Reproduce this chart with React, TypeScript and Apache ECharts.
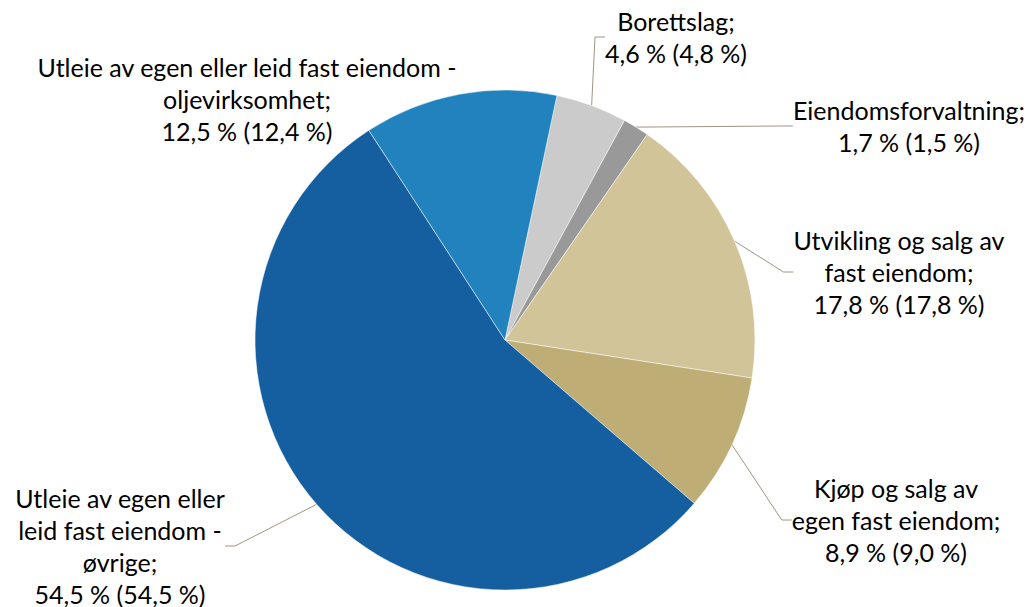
import React, { useEffect, useRef } from "react";
import * as echarts from "echarts";

const categories = [
  "Borettslag",
  "Eiendomsforvaltning",
  "Utvikling og salg av\nfast eiendom",
  "Kjøp og salg av\negen fast eiendom",
  "Utleie av egen eller\nleid fast eiendom -\nøvrige",
  "Utleie av egen eller leid fast eiendom -\noljevirksomhet",
];
const values = [4.6, 1.7, 17.8, 8.9, 54.5, 12.5];
const previousValues = [4.8, 1.5, 17.8, 9.0, 54.5, 12.4];
const colors = ["#CBCBCB", "#999999", "#D0C498", "#BFAD76", "#155FA1", "#2182BD"];

// label block centres (layout only)
const labelCentres: [number, number][] = [
  [676, 37],
  [909, 126],
  [899, 272],
  [896, 520],
  [120, 546],
  [247, 99],
];

const fmt = (v: number) => v.toFixed(1).replace(".", ",");

export default function App() {
  const ref = useRef<HTMLDivElement>(null);
  useEffect(() => {
    document.body.style.margin = "0";
    const chart = echarts.init(ref.current!, null, { renderer: "svg" });
    chart.setOption({
      animation: false,
      backgroundColor: "#ffffff",
      series: [
        {
          type: "pie",
          center: [505, 340],
          radius: [0, 250],
          startAngle: 78,
          clockwise: true,
          avoidLabelOverlap: false,
          itemStyle: { borderColor: "#ffffff", borderWidth: 0.5 },
          data: categories.map((name, i) => ({
            name,
            value: values[i],
            itemStyle: { color: colors[i] },
          })),
          label: {
            show: true,
            position: "outside",
            fontFamily: "Lato",
            fontSize: 25,
            lineHeight: 32,
            color: "#000000",
            align: "center",
            formatter: (p: any) =>
              `${p.name};\n${fmt(p.value)} % (${fmt(previousValues[p.dataIndex])} %)`,
          },
          labelLine: {
            show: true,
            length: 10,
            length2: 10,
            lineStyle: { color: "#A09584", width: 1 },
          },
          labelLayout: (params: any) => {
            const c = labelCentres[params.dataIndex];
            return {
              x: c[0],
              y: c[1],
              align: "center",
              verticalAlign: "middle",
            };
          },
        },
      ],
    });
    return () => chart.dispose();
  }, []);
  return <div ref={ref} style={{ width: 1030, height: 607 }} />;
}
